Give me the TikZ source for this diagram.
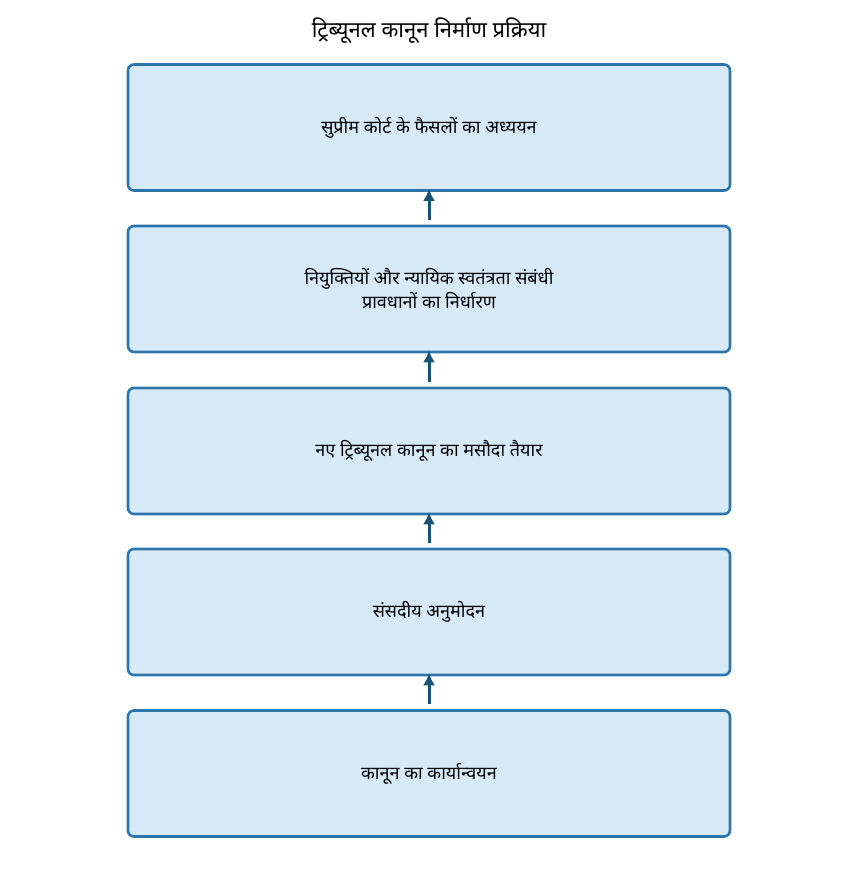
\documentclass[tikz,border=0pt]{standalone}
\usepackage{fontspec}
\newfontfamily\devfont[Script=Devanagari]{Noto Sans}
\usetikzlibrary{arrows.meta}
\definecolor{boxfill}{HTML}{D6EAF8}
\definecolor{boxline}{HTML}{2E75AB}
\definecolor{arrowcol}{HTML}{1A5276}
\begin{document}
\begin{tikzpicture}[x=1pt,y=1pt,
  stepbox/.style={draw=boxline, fill=boxfill, line width=2.6pt, rounded corners=6pt,
    minimum width=602pt, minimum height=126pt, align=center, inner sep=0pt,
    font=\devfont\fontsize{18}{24}\selectfont},
  flowarrow/.style={draw=arrowcol, line width=3pt, -{Latex[length=12pt,width=12pt]},
    shorten <=5pt, shorten >=-3pt}]
\useasboundingbox (0,0) rectangle (858,-877);
\node[font=\devfont\fontsize{22}{26}\selectfont] (title) at (429,-31) {ट्रिब्यूनल कानून निर्माण प्रक्रिया};
\node[stepbox] (b1) at (429,-127.5) {सुप्रीम कोर्ट के फैसलों का अध्ययन};
\node[stepbox] (b2) at (429,-289) {नियुक्तियों और न्यायिक स्वतंत्रता संबंधी\\प्रावधानों का निर्धारण};
\node[stepbox] (b3) at (429,-451) {नए ट्रिब्यूनल कानून का मसौदा तैयार};
\node[stepbox] (b4) at (429,-612) {संसदीय अनुमोदन};
\node[stepbox] (b5) at (429,-773.5) {कानून का कार्यान्वयन};
\draw[flowarrow] (b2.north) -- (b1.south);
\draw[flowarrow] (b3.north) -- (b2.south);
\draw[flowarrow] (b4.north) -- (b3.south);
\draw[flowarrow] (b5.north) -- (b4.south);
\end{tikzpicture}
\end{document}
